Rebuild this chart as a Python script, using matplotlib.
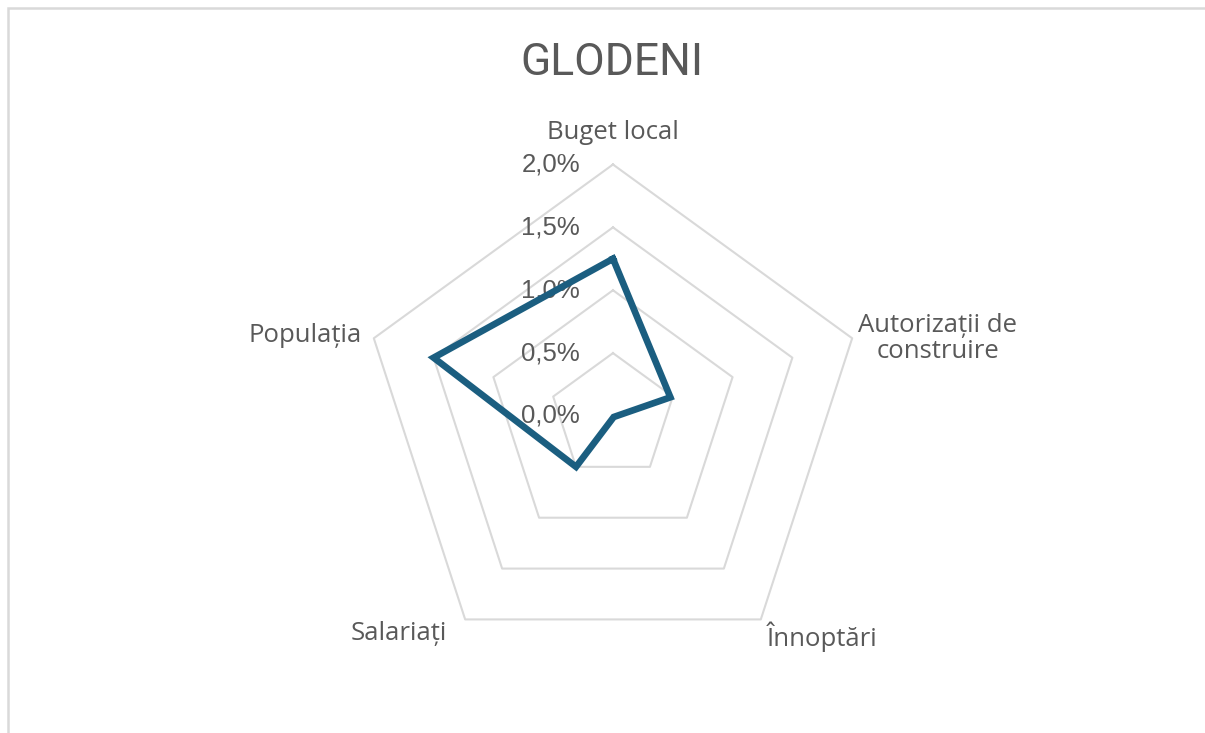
import numpy as np
import matplotlib
matplotlib.use("Agg")
import matplotlib.pyplot as plt
from matplotlib.patches import Rectangle

# data
title = "GLODENI"
categories = ["Buget local", "Autorizații de\nconstruire", "Înnoptări", "Salariați", "Populația"]
values = [1.25, 0.48, 0.01, 0.50, 1.50]   # percent
rings = [0.5, 1.0, 1.5, 2.0]
tick_values = [0.0, 0.5, 1.0, 1.5, 2.0]
tick_labels = ["0,0%", "0,5%", "1,0%", "1,5%", "2,0%"]

grey_text = "#595959"
ring_color = "#d9d9d9"
line_color = "#1b5e80"

fig = plt.figure(figsize=(12.05, 7.33), dpi=100)
fig.patch.set_facecolor("white")

# chart frame (only left and top edges visible in the crop)
fig.patches.append(Rectangle((8 / 1205, -0.5), 2.0, 1.5 - 8 / 733,
                             transform=fig.transFigure, fill=False,
                             edgecolor=ring_color, linewidth=1.8))

fig.text(0.508, 1 - 63 / 733, title, ha="center", va="center",
         fontsize=32, color=grey_text, family="Roboto")

ax = fig.add_axes([0.3, 0.0894, 0.4174, 0.6862], projection="polar")
ax.set_theta_zero_location("N")
ax.set_theta_direction(-1)
ax.set_ylim(0, 2.0)
ax.set_axis_off()

n = len(categories)
theta = np.linspace(0, 2 * np.pi, n, endpoint=False)
theta_closed = np.append(theta, theta[0])

# pentagon gridlines
for r in rings:
    ax.plot(theta_closed, [r] * (n + 1), color=ring_color, lw=1.5,
            clip_on=False, zorder=1)

# data series
vals_closed = values + values[:1]
ax.plot(theta_closed, vals_closed, color=line_color, lw=4.8,
        solid_joinstyle="miter", clip_on=False, zorder=3)

# radial tick labels
for v, lab in zip(tick_values, tick_labels):
    ax.annotate(lab, xy=(0, v), xytext=(-33, 0), textcoords="offset pixels",
                ha="right", va="center", fontsize=18.5, color=grey_text,
                family="Liberation Sans", zorder=2, annotation_clip=False)

# category labels
label_style = [
    dict(xytext=(0, 32), ha="center", va="center"),
    dict(xytext=(6, 0), ha="left", va="center"),
    dict(xytext=(6, -2), ha="left", va="top"),
    dict(xytext=(-18, -2), ha="right", va="top"),
    dict(xytext=(-12, 3), ha="right", va="center"),
]
for t, lab, st in zip(theta, categories, label_style):
    ax.annotate(lab, xy=(t, 2.0), textcoords="offset pixels",
                fontsize=18.5, color=grey_text, family="Open Sans",
                multialignment="center", linespacing=1.05,
                annotation_clip=False, **st)

fig.savefig("out.png", dpi=100)
